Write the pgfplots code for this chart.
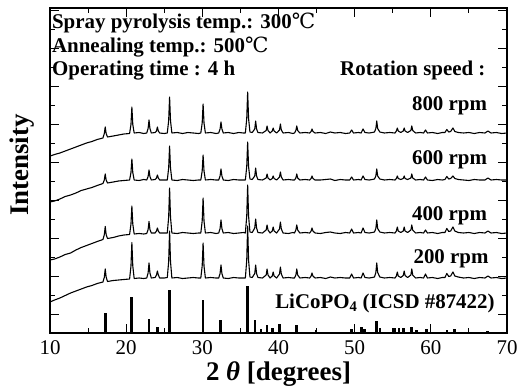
\documentclass[border=0pt]{standalone}
\usepackage{fontspec}
\setmainfont{Liberation Serif}
\newfontfamily\djvs{DejaVu Serif}
\usepackage{pgfplots}
\pgfplotsset{compat=1.18}
\usepackage{pgfplotstable}

% columns: a = 800 rpm, b = 600 rpm, c = 400 rpm, d = 200 rpm
\pgfplotstableread{
x a b c d
10.0 177 131 73 31
10.6 178.5 132 74 33
11.3 180 134 76 35
12.0 182 136.5 78.5 37.5
12.7 184 138 80 40
13.4 186 140 83 42
14.1 188 142.5 85.5 44
14.8 190 144 87.5 46
15.5 191.5 145.5 89.5 47.5
16.2 193.5 147.5 91.5 49.5
16.95 195 149.5 93.5 51
17.13 199.5 153 98.3 55.7
17.25 206 159 106.5 64
17.37 199.5 153 98.5 56
17.55 196 150 94.5 51.5
18.3 197 151 95.5 52.5
19.0 198 152 97 53
19.7 199 152.5 98 53.5
20.45 199.5 153 98.5 54
20.63 208.5 160.5 109 67
20.75 226 174 127 90.5
20.87 208.5 160.5 109 67
21.05 200 153 99 54.5
21.7 200.5 152.5 99.5 55
22.3 199.5 153.5 99 54.5
22.7 200 153 99.5 55
22.88 204.5 156.5 103.5 60
23.0 213 163 111.5 70
23.12 204.5 156.5 103.5 60
23.3 200 153 100 55
23.8 200.5 153.5 100 55.5
23.98 202 155 102 58
24.1 206 158 105 62
24.22 202 155 102 58
24.4 200 153 100 55
25.0 199.5 153 100 55
25.4 200 153 100 55.5
25.58 212.5 165 116 71.5
25.7 236 187 145 102
25.82 212.5 165 116 71.5
26.0 200 153 100 55
26.7 200.5 152.5 99.5 55.5
27.4 199.5 153.5 100.5 54.5
28.1 200.5 153 100 55
28.8 200 152.5 99.5 55.5
29.5 199.5 153 100 55
29.8 200 153 100 55
29.98 210 162 112 67
30.1 229 178 135 90
30.22 210 162 112 67
30.4 200 153 100 55
31.1 200.5 153.5 100.5 55.5
31.8 199.5 153 99.5 55
32.15 200 153 100 55
32.33 204 157 104.5 59.5
32.45 211 164 113 68
32.57 204 157 104.5 59.5
32.75 200 153 100 55
33.4 200.5 152.5 100.5 54.5
34.1 199.5 153.5 99.5 55.5
34.8 200.5 153 100 55
35.4 200 153 100.5 55
35.65 200 153 100 55
35.83 214.5 166.5 117 73
35.95 241 191 148 107
36.07 214.5 166.5 117 73
36.25 201 154 101 56
36.55 200.5 153.5 100.5 55.5
36.88 204 157 105 59.5
37.0 212 165 114 68
37.12 204 157 105 59.5
37.3 200.5 153.5 100.5 55.5
37.9 200 153 100 55
38.38 202.5 155 103 58
38.5 207 159 108 64
38.62 202.5 155 103 58
38.9 200 153 100 55
39.18 202 154.5 102 57
39.3 205 157 106 61
39.42 202 154.5 102 57
39.75 200 153 100 55
40.13 203 156 104 59
40.25 209 161 111 66
40.37 203 156 104 59
40.6 200 153 100 55
41.3 200.5 153.5 99.5 55.5
41.9 199.5 153 100.5 55
42.1 200 153 100 55
42.28 202.5 155 103 58
42.4 207 159 108 64
42.52 202.5 155 103 58
42.8 200 153 100 55
43.5 200.5 153.5 100.5 55.5
44.1 200 153 100 55
44.28 201.5 154.5 102 57
44.4 204 157 105 60
44.52 201.5 154.5 102 57
44.8 200 153 100 55
45.5 200.5 153 99.5 55.5
46.2 199.5 153.5 100.5 54.5
46.8 201 154 101 56
47.4 200 152.5 100 55
48.1 200.5 153.5 99.5 55.5
48.8 199.5 153 100.5 55
49.35 200 153 100 55
49.6 203 156 104 59
49.85 200 153 100 55
50.5 200.5 153.5 100.5 55.5
50.85 200 153 100 55
51.1 204 157 105 60
51.35 200.5 153.5 100.5 55.5
51.9 200 153 100 55
52.3 200.5 153.5 100.5 55.5
52.6 201 154 101 56
52.78 204.5 157 104.5 60.5
52.9 212 164 113 70
53.02 204.5 157 104.5 60.5
53.3 201 154 101 56
53.9 200 153 100 55
54.6 200.5 153.5 100.5 55.5
55.3 200 153 100 55
55.48 202 154.5 102 57
55.6 205 157 106 61
55.72 202 154.5 102 57
56.05 200.5 153.5 100.5 55.5
56.38 202 154.5 102 57.5
56.5 205 157 106 62
56.62 202 154.5 102 57.5
56.95 200.5 153.5 100.5 55.5
57.38 202.5 155 103 58
57.5 207 159 108 64
57.62 202.5 155 103 58
58.0 200 153 100 55
58.6 200.5 153.5 100.5 55.5
59.05 200 153 100 55
59.3 203 156 103 59
59.55 200 153 100 55
60.2 200.5 152.5 100.5 55.5
60.9 199.5 153.5 99.5 54.5
61.5 200.5 153 100.5 55.5
61.85 200.5 153.5 100.5 55.5
62.1 203.5 156.5 104.5 59.5
62.35 201 154 101.5 56.5
62.6 201.5 154.5 102 57
62.9 205 157 106 61
63.15 201.5 154.5 102 57
63.6 200.5 153.5 100.5 56
64.3 200 153 100 55
65.0 200.5 152.5 100.5 55.5
65.7 199.5 153.5 99.5 54.5
66.4 200.5 153 100.5 55.5
67.1 200 153 100 55
67.5 202 155 102 57
67.9 200 153 100 55
68.6 200.5 153.5 100.5 55.5
69.3 199.5 153 99.5 54.5
70.0 200 153 100 55
}\xrd

\pgfplotstableread{
x h
17.3 20
20.7 36
23.0 14
24.1 6
25.7 43
30.1 33
32.4 13
35.95 47
36.9 13
37.7 4
38.5 8
39.2 5
40.2 9
42.4 8
44.9 3
49.6 4
50.9 6
51.3 4
52.9 12
53.3 5
55.2 5
55.8 5
56.4 5
57.5 6
58.1 3
59.4 4
62.1 3
63.1 4
67.4 2
}\refbars

\begin{document}
\begin{tikzpicture}
\begin{axis}[
  scale only axis, width=457bp, height=325bp,
  xmin=10, xmax=70, ymin=0, ymax=325,
  xtick={10,20,...,70}, minor xtick={15,25,...,65},
  ytick={19,57,...,323}, minor ytick={38,76,...,304},
  yticklabels={},
  xtick pos=both, ytick pos=both,
  tick align=inside, major tick length=9bp, minor tick length=5bp,
  axis line style={line width=1.6bp},
  every tick/.style={black, line width=0.9bp},
  /pgf/number format/assume math mode=true,
  xticklabel style={font=\fontsize{21}{21}\selectfont, inner sep=0pt, anchor=north, yshift=-7bp},
  xlabel={2 {\itshape θ} [degrees]},
  xlabel style={font=\bfseries\fontsize{27}{27}\selectfont, at={(axis description cs:0.5,-0.125)}, anchor=center},
  ylabel={Intensity},
  ylabel style={font=\bfseries\fontsize{27}{27}\selectfont, at={(axis description cs:-0.061,0.517)}, anchor=center},
  clip=false,
]
\addplot[black, line width=1.1bp, line join=round] table[x=x,y=a]{\xrd};
\addplot[black, line width=1.1bp, line join=round] table[x=x,y=b]{\xrd};
\addplot[black, line width=1.1bp, line join=round] table[x=x,y=c]{\xrd};
\addplot[black, line width=1.1bp, line join=round] table[x=x,y=d]{\xrd};
\addplot[ycomb, black, line width=2.6bp] table[x=x,y=h]{\refbars};

\begin{scope}[every node/.style={font=\bfseries\fontsize{21}{21}\selectfont, inner sep=0pt}]
\node[anchor=base west] at (axis cs:10.25,304) {Spray pyrolysis temp.: 300{\djvs\mdseries ℃}};
\node[anchor=base west] at (axis cs:10.25,280) {Annealing temp.: 500{\djvs\mdseries ℃}};
\node[anchor=base west] at (axis cs:10.25,257) {Operating time : 4 h};
\node[anchor=base east] at (axis cs:67.2,257) {Rotation speed :};
\node[anchor=base east] at (axis cs:67.4,222) {800 rpm};
\node[anchor=base east] at (axis cs:67.4,169) {600 rpm};
\node[anchor=base east] at (axis cs:67.4,113) {400 rpm};
\node[anchor=base east] at (axis cs:67.6,70) {200 rpm};
\node[anchor=base east] at (axis cs:68.4,25) {LiCoPO\textsubscript{4} (ICSD \#87422)};
\end{scope}
\end{axis}
\pgfresetboundingbox
\path[use as bounding box] ([shift={(-50bp,-57bp)}]current axis.south west) rectangle ([shift={(14bp,8bp)}]current axis.north east);
\end{tikzpicture}
\end{document}
